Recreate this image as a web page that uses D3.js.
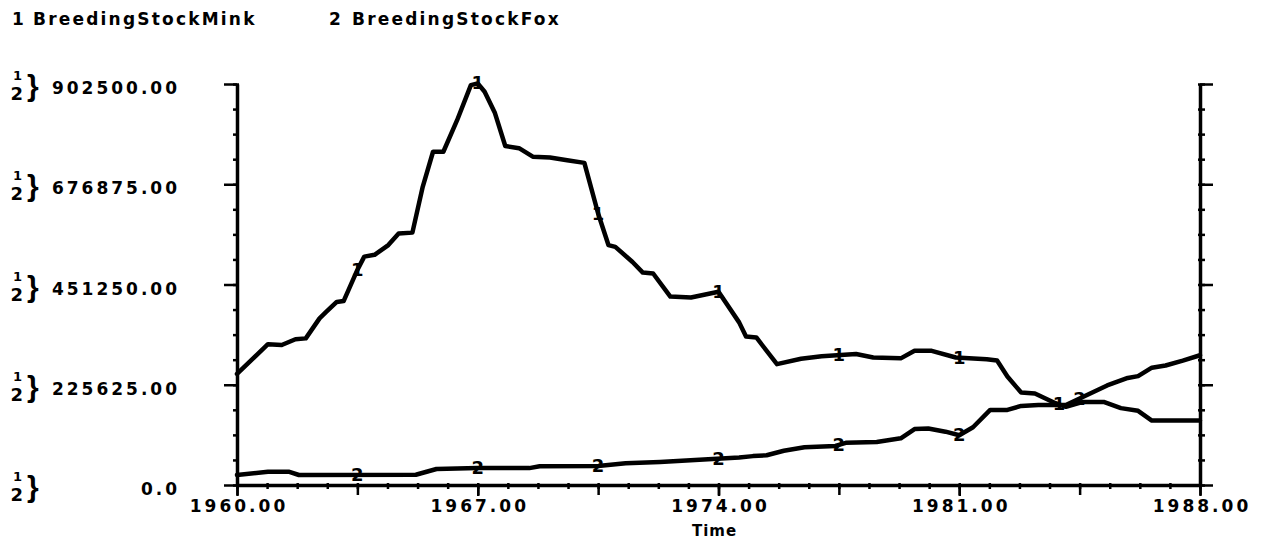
<!DOCTYPE html>
<html>
<head>
<meta charset="utf-8">
<script src="https://cdn.jsdelivr.net/npm/d3@7"></script>
<style>
  html, body { margin: 0; padding: 0; background: #fff; }
  svg { display: block; }
  .lbl { font-family: "DejaVu Sans", sans-serif; font-weight: bold; fill: #000; }
</style>
</head>
<body>
<svg id="chart" width="1262" height="546"></svg>
<script>
// ---------------- data ----------------
const seriesNames = ["BreedingStockMink", "BreedingStockFox"];

const minkYears  = [1960.0, 1960.9, 1961.3, 1961.7, 1962.0, 1962.4, 1962.6, 1962.9, 1963.1, 1963.5,
                    1963.7, 1964.0, 1964.4, 1964.7, 1965.1, 1965.4, 1965.7, 1966.0, 1966.4, 1966.8,
                    1967.0, 1967.2, 1967.5, 1967.8, 1968.2, 1968.6, 1969.1, 1969.6, 1970.1, 1970.5,
                    1970.8, 1971.0, 1971.5, 1971.8, 1972.1, 1972.6, 1973.2, 1974.0, 1974.6, 1974.8,
                    1975.1, 1975.7, 1976.4, 1977.0, 1978.0, 1978.5, 1979.3, 1979.7, 1980.2, 1980.9,
                    1981.8, 1982.1, 1982.4, 1982.8, 1983.2, 1983.8, 1984.1, 1984.6, 1985.2, 1985.7,
                    1986.2, 1986.6, 1988.0];
const minkValues = [250000, 317000, 315000, 328000, 330000, 375000, 390000, 412000, 414000, 484000,
                    514000, 518000, 540000, 566000, 568000, 671000, 750000, 750000, 821000, 900000,
                    904000, 885000, 837000, 763000, 758000, 739000, 737000, 731000, 725000, 611000,
                    540000, 536000, 502000, 478000, 476000, 424000, 422000, 435000, 366000, 334000,
                    332000, 272000, 284000, 290000, 295000, 287000, 285000, 302000, 302000, 287000,
                    283000, 280000, 244000, 208000, 206000, 184000, 176000, 187000, 187000, 173000,
                    167000, 145000, 145000];

const foxYears  = [1960.0, 1960.9, 1961.5, 1961.8, 1965.2, 1965.8, 1967.0, 1968.5, 1968.8, 1970.5,
                   1971.3, 1972.3, 1973.7, 1974.6, 1975.0, 1975.4, 1975.9, 1976.5, 1977.4, 1977.7,
                   1978.6, 1979.3, 1979.7, 1980.1, 1980.6, 1981.0, 1981.4, 1981.9, 1982.4, 1982.8,
                   1983.3, 1984.1, 1984.7, 1985.3, 1985.9, 1986.2, 1986.6, 1987.0, 1987.5, 1988.0];
const foxValues = [22500, 30000, 30000, 22500, 23000, 36000, 38000, 38000, 42000, 43000,
                   49000, 52000, 58000, 62000, 65000, 67000, 77000, 85000, 88000, 95000,
                   97000, 105000, 126000, 127000, 120000, 112000, 130000, 169000, 169000, 178000,
                   180000, 180000, 202000, 224000, 241000, 245000, 264000, 269000, 280000, 292000];

// label glyph positions along each line (years)
const minkLabelYears = [1963.5, 1967.0, 1970.5, 1974.0, 1977.5, 1981.0, 1983.9];
const foxLabelYears  = [1963.5, 1967.0, 1970.5, 1974.0, 1977.5, 1981.0, 1984.5];

const yTickValues = [0, 225625, 451250, 676875, 902500];
const yTickLabels = ["0.0", "225625.00", "451250.00", "676875.00", "902500.00"];
const xTickValues = [1960, 1967, 1974, 1981, 1988];
const xTickLabels = ["1960.00", "1967.00", "1974.00", "1981.00", "1988.00"];
const xTitle = "Time";

// ---------------- layout ----------------
const L = 237, R = 1200, T = 84, B = 485;
const svg = d3.select("#chart");

const x = d3.scaleLinear().domain([1960, 1988]).range([L, R]);
const y = d3.scaleLinear().domain([0, 902500]).range([B, T]);

const yMinor = d3.range(0, 17).map(i => i * 902500 / 16);
const xMid = d3.range(0, 9).map(i => 1960 + i * 3.5);
const xMinor = d3.range(0, 33).map(i => 1960 + i * 0.875);

function styleAxis(g, w) {
  g.selectAll("path.domain").attr("stroke", "#000").attr("stroke-width", w);
  g.selectAll(".tick line").attr("stroke", "#000").attr("stroke-width", 2.5);
}

// minor ticks left
svg.append("g").attr("transform", `translate(${L + 2},0)`)
  .call(d3.axisLeft(y).tickValues(yMinor).tickSize(6).tickFormat(""))
  .call(g => { g.select(".domain").remove(); styleAxis(g, 3); });
// minor ticks right
svg.append("g").attr("transform", `translate(${R - 2},0)`)
  .call(d3.axisRight(y).tickValues(yMinor).tickSize(7).tickFormat(""))
  .call(g => { g.select(".domain").remove(); styleAxis(g, 3); });
// minor ticks bottom
svg.append("g").attr("transform", `translate(0,${B - 2})`)
  .call(d3.axisBottom(x).tickValues(xMinor).tickSize(6).tickFormat(""))
  .call(g => { g.select(".domain").remove(); styleAxis(g, 3); });
// mid ticks bottom
svg.append("g").attr("transform", `translate(0,${B})`)
  .call(d3.axisBottom(x).tickValues(xMid).tickSize(10).tickFormat(""))
  .call(g => { g.select(".domain").remove(); styleAxis(g, 3); });

// left axis with labels
svg.append("g").attr("transform", `translate(${L},0)`)
  .call(d3.axisLeft(y).tickValues(yTickValues).tickSize(13).tickSizeOuter(0)
        .tickPadding(44).tickFormat((d, i) => yTickLabels[i]))
  .call(g => {
    styleAxis(g, 3.5);
    g.selectAll("text").attr("class", "lbl").attr("dy", null).attr("y", 9.5)
      .style("font-size", "17px").style("letter-spacing", "3px").attr("fill", "#000");
  });

// right axis
svg.append("g").attr("transform", `translate(${R},0)`)
  .call(d3.axisRight(y).tickValues(yTickValues).tickSize(13).tickSizeOuter(0).tickFormat(""))
  .call(g => styleAxis(g, 3.5));

// bottom axis with labels
svg.append("g").attr("transform", `translate(0,${B})`)
  .call(d3.axisBottom(x).tickValues(xTickValues).tickSize(11).tickSizeOuter(0)
        .tickPadding(16).tickFormat((d, i) => xTickLabels[i]))
  .call(g => {
    styleAxis(g, 3.5);
    g.selectAll("text").attr("class", "lbl").attr("dy", null).attr("y", 27).attr("dx", 1.5)
      .style("font-size", "17px").style("letter-spacing", "3px").attr("fill", "#000");
  });

// axis title
svg.append("text").attr("class", "lbl").attr("x", (L + R) / 2 - 4).attr("y", 536)
  .attr("text-anchor", "middle").style("font-size", "15px").style("letter-spacing", "1px")
  .text(xTitle);

// brace groups next to y labels (one text element each: "1" over "2" and a brace)
const braces = svg.append("g");
yTickValues.forEach(v => {
  const yt = y(v);
  const t = braces.append("text").attr("class", "lbl");
  t.append("tspan").attr("x", 13).attr("y", yt - 4).style("font-size", "13px").text("1");
  t.append("tspan").attr("x", 10.5).attr("y", yt + 16).style("font-size", "18px").text("2");
  t.append("tspan").attr("x", 27).attr("y", yt + 12)
    .style("font-family", "Liberation Sans, sans-serif").style("font-size", "30px").text("}");
});

// lines
const line = d3.line().x(d => x(d[0])).y(d => y(d[1]));
const minkData = d3.zip(minkYears, minkValues);
const foxData = d3.zip(foxYears, foxValues);

[minkData, foxData].forEach(data => {
  svg.append("path").datum(data).attr("d", line)
    .attr("fill", "none").attr("stroke", "#000").attr("stroke-width", 4.5)
    .attr("stroke-linejoin", "round").attr("stroke-linecap", "round");
});

// glyph labels along lines
function valueAt(years, values, t) {
  const i = Math.min(Math.max(d3.bisectRight(years, t), 1), years.length - 1);
  const t0 = years[i - 1], t1 = years[i];
  const f = (t - t0) / (t1 - t0);
  return values[i - 1] + f * (values[i] - values[i - 1]);
}
function addLabels(years, values, labelYears, glyph) {
  labelYears.forEach(t => {
    svg.append("text").attr("class", "lbl")
      .attr("x", x(t)).attr("y", y(valueAt(years, values, t)) + 6)
      .attr("text-anchor", "middle").style("font-size", "18px").text(glyph);
  });
}
addLabels(minkYears, minkValues, minkLabelYears, "1");
addLabels(foxYears, foxValues, foxLabelYears, "2");

// legend
const legend = svg.append("g");
[[12, 33], [329, 352]].forEach((p, i) => {
  legend.append("text").attr("class", "lbl").attr("x", p[0]).attr("y", 25)
    .style("font-size", "17px").text(String(i + 1));
  legend.append("text").attr("class", "lbl").attr("x", p[1]).attr("y", 25)
    .style("font-size", "17px").style("letter-spacing", "2.2px").text(seriesNames[i]);
});
</script>
</body>
</html>
